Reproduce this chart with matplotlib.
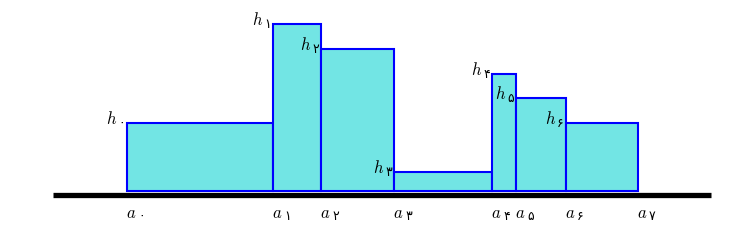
import matplotlib
matplotlib.use("Agg")
import matplotlib.pyplot as plt

# مرزهای بازه ها و ارتفاع ها
a_edges = [0, 146, 194, 267, 365, 389, 439, 511]
h_vals = [68, 167, 142, 19, 117, 93, 68]
fa_digits = ["۰", "۱", "۲", "۳", "۴", "۵", "۶", "۷"]

plt.rcParams['mathtext.fontset'] = 'cm'

fig = plt.figure(figsize=(7.51, 2.41), dpi=100)
ax = fig.add_axes([0, 0, 1, 1])
ax.set_xlim(-127, 624)
ax.set_ylim(-50, 191)
ax.axis('off')

widths = [a_edges[i + 1] - a_edges[i] for i in range(len(h_vals))]
ax.bar(a_edges[:-1], h_vals, width=widths, align='edge',
       color='#72E5E4', edgecolor='#0000FF', linewidth=1.5, zorder=2)

# خط پایه
ax.plot([-74, 584], [-4, -4], color='black', linewidth=3.8, solid_capstyle='butt', zorder=3)

for i, x in enumerate(a_edges):
    ax.text(x - 1, -27, r"$a$", ha='left', va='baseline', fontsize=12)
    ax.text(x + 11, -29, fa_digits[i], ha='left', va='baseline', fontsize=9, family='DejaVu Sans')

for i, h in enumerate(h_vals):
    ax.text(edge := a_edges[i] - 10, h - 1, r"$h$", ha='right', va='baseline', fontsize=12)
    ax.text(a_edges[i] - 9, h - 4, fa_digits[i], ha='left', va='baseline', fontsize=9, family='DejaVu Sans')

fig.savefig("out.png", dpi=100)
